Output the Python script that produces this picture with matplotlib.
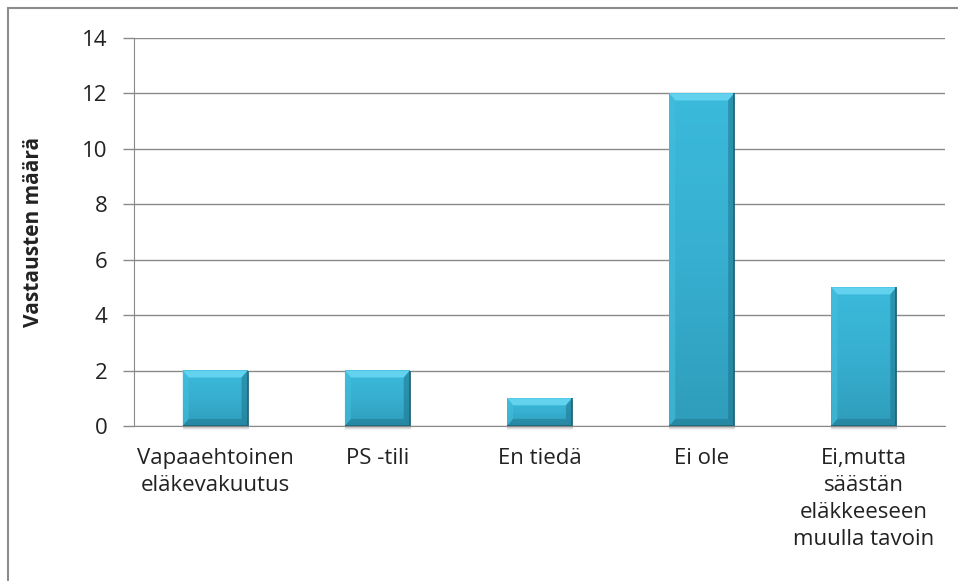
import matplotlib
matplotlib.use("Agg")
import matplotlib.pyplot as plt
import numpy as np
from matplotlib.patches import Polygon, Rectangle
from matplotlib.colors import LinearSegmentedColormap

categories = ["Vapaaehtoinen\neläkevakuutus", "PS -tili", "En tiedä", "Ei ole",
              "Ei,mutta\nsäästän\neläkkeeseen\nmuulla tavoin"]
values = [2, 2, 1, 12, 5]
yticks = [0, 2, 4, 6, 8, 10, 12, 14]
ylabel = "Vastausten määrä"

plt.rcParams['font.family'] = ['Open Sans', 'DejaVu Sans']

fig = plt.figure(figsize=(9.58, 5.81), dpi=100)
ax = fig.add_axes([0.1399, 0.2668, 0.8465, 0.6678])

# figure border
fig.patches.append(Rectangle((8/958, -0.1), 1.2, 1 - 8/581 + 0.1, transform=fig.transFigure,
                             fill=False, edgecolor='#8c8c8c', linewidth=1.5))

txtc = '#222222'
fs = 16
x = np.arange(len(categories))
ax.set_xlim(-0.5, len(categories) - 0.5)
ax.set_ylim(0, 14)
ax.set_yticks(yticks)
ax.set_xticks(x)
ax.set_xticklabels(categories, fontsize=fs, color=txtc, linespacing=1.37)
ax.tick_params(axis='y', labelsize=fs, labelcolor=txtc, length=8, width=1, color='#8a8a8a', pad=11)
ax.tick_params(axis='x', length=0, pad=16)
ax.grid(axis='y', color='#8a8a8a', linewidth=1)
ax.set_axisbelow(True)
for s in ['top', 'right']:
    ax.spines[s].set_visible(False)
ax.spines['left'].set_color('#8a8a8a')
ax.spines['bottom'].set_color('#8a8a8a')
ax.set_ylabel(ylabel, fontsize=15, fontweight='bold', color=txtc)
ax.yaxis.set_label_coords(-0.111, 0.5)

fig.canvas.draw()
# pixel -> data conversion
px_x = 1.0 / (ax.transData.transform((1, 0))[0] - ax.transData.transform((0, 0))[0])
px_y = 1.0 / (ax.transData.transform((0, 1))[1] - ax.transData.transform((0, 0))[1])

cmap = LinearSegmentedColormap.from_list('bar', ['#2f9dbb', '#37afd0', '#3bbadb'])
w = 0.4
grad = np.linspace(0, 1, 256).reshape(-1, 1)
for xi, v in zip(x, values):
    x0, x1 = xi - w / 2, xi + w / 2
    # soft shadow
    for k, a in zip([4, 3, 2], [0.05, 0.07, 0.09]):
        ax.add_patch(Rectangle((x0, -k * px_y), w + 1 * px_x, v, facecolor='#000000',
                               alpha=a, edgecolor='none', zorder=2, clip_on=False))
    ax.imshow(grad, extent=(x0, x1, 0, v), origin='lower', cmap=cmap, aspect='auto', zorder=3)
    bx = 6 * px_x
    by = 7 * px_y
    # top bevel
    ax.add_patch(Polygon([(x0, v), (x1, v), (x1 - bx, v - by), (x0 + bx, v - by)],
                         closed=True, facecolor='#62d2ee', edgecolor='none', zorder=4))
    # left bevel
    ax.add_patch(Polygon([(x0, v), (x0 + bx, v - by), (x0 + bx, by), (x0, 0)],
                         closed=True, facecolor='#45bedd', edgecolor='none', zorder=4, alpha=0.6))
    # right bevel
    ax.add_patch(Polygon([(x1, v), (x1 - bx, v - by), (x1 - bx, by), (x1, 0)],
                         closed=True, facecolor='#1d6f87', edgecolor='none', zorder=4, alpha=0.5))
    # bottom bevel
    ax.add_patch(Polygon([(x0, 0), (x1, 0), (x1 - bx, by), (x0 + bx, by)],
                         closed=True, facecolor='#1d6f87', edgecolor='none', zorder=4, alpha=0.45))
    # dark outline at right and bottom edges
    ax.plot([x0, x1, x1], [0, 0, v], color='#1c6478', lw=1.2, zorder=5, solid_capstyle='butt')

ax.set_xlim(-0.5, len(categories) - 0.5)
ax.set_ylim(0, 14)

fig.savefig("out.png", dpi=100)
